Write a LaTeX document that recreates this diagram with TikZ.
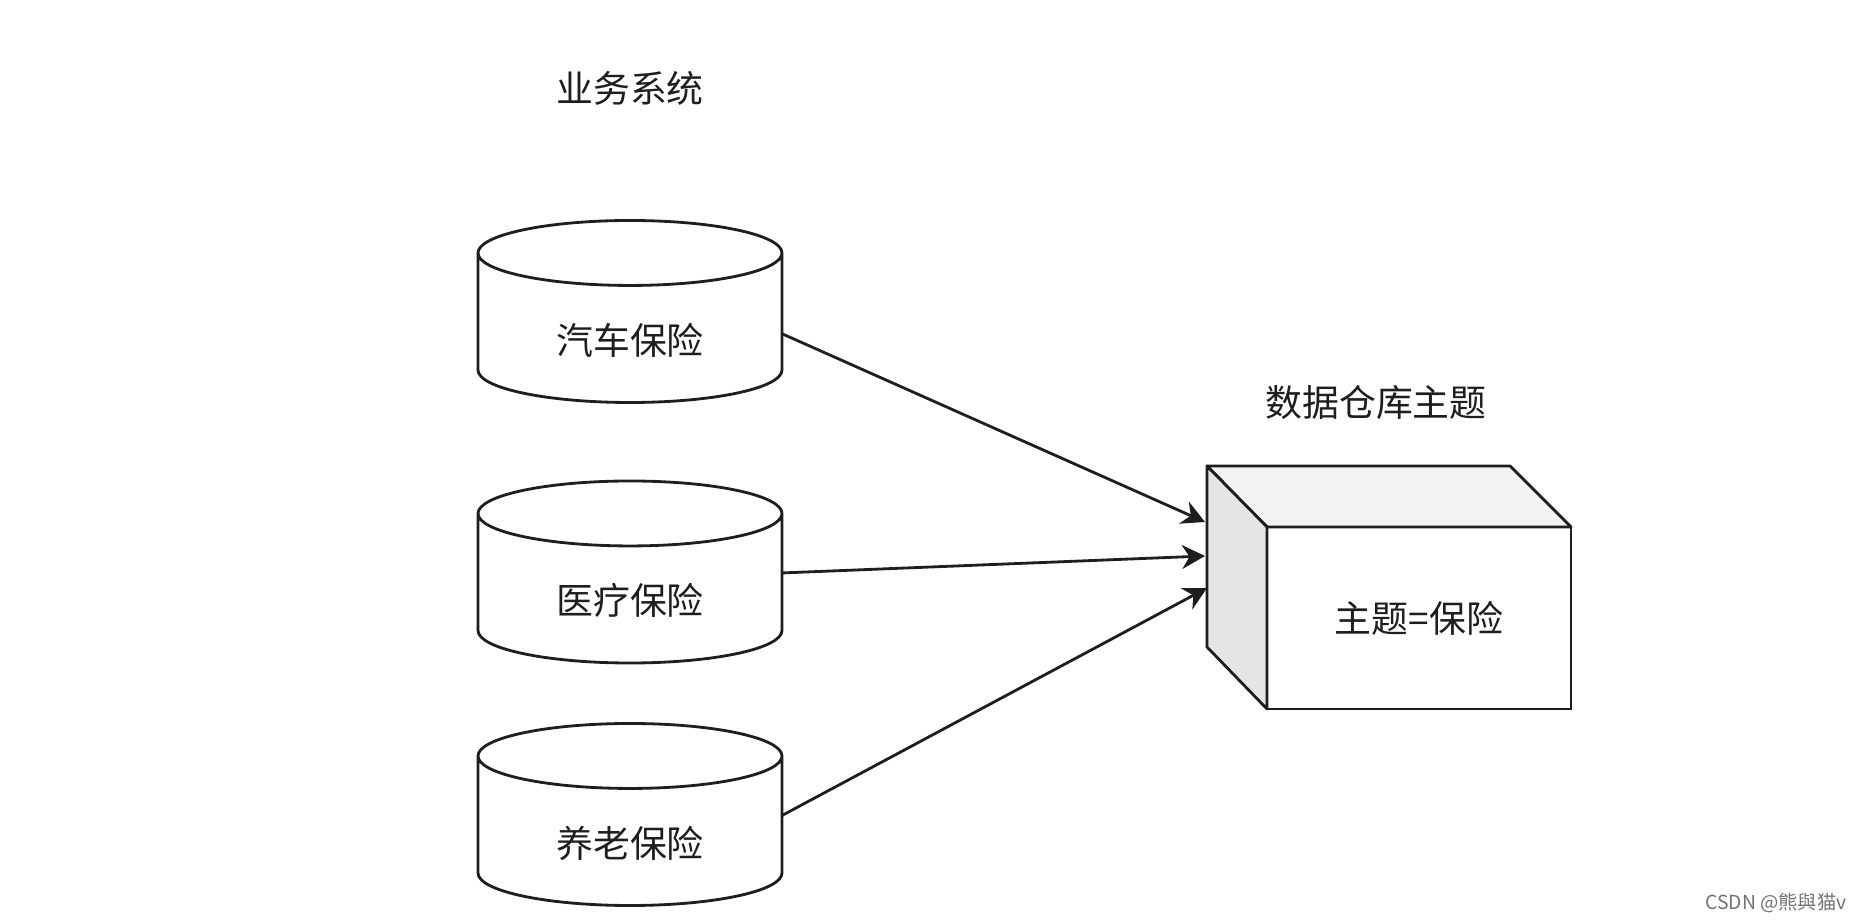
\documentclass[tikz,border=0pt]{standalone}
\usepackage{fontspec}
\setmainfont{Noto Sans CJK SC}
\usetikzlibrary{shapes.geometric,arrows.meta}
\definecolor{inkline}{HTML}{1E1E1E}
\tikzset{
  dbcyl/.style={cylinder,shape border rotate=90,shape aspect=.44,anchor=shape center,draw=inkline,line width=.8pt,
    minimum width=3.04cm,minimum height=1.82cm,inner sep=0pt,outer sep=0pt,text height=.52cm,text depth=0pt,
    font=\fontsize{10.5pt}{12pt}\selectfont,text=inkline},
  caption/.style={font=\fontsize{10.5pt}{12pt}\selectfont,text=inkline},
  feed/.style={draw=inkline,line width=.8pt,-{Stealth[length=.23cm,width=.24cm]}},
  face/.style={draw=inkline,line width=.8pt,line join=round}
}
\begin{document}
\begin{tikzpicture}
\useasboundingbox (0,0) rectangle (18.62,-9.22);

\node[caption] (sys) at (6.30,-.88) {业务系统};
\node[dbcyl] (car) at (6.30,-3.115) {汽车保险};
\node[dbcyl] (med) at (6.30,-5.72) {医疗保险};
\node[dbcyl] (old) at (6.30,-8.145) {养老保险};

\draw[face,fill=black!5] (12.07,-4.66) -- (15.10,-4.66) -- (15.71,-5.27) -- (12.67,-5.27) -- cycle;
\draw[face,fill=black!10] (12.07,-4.66) -- (12.67,-5.27) -- (12.67,-7.09) -- (12.07,-6.47) -- cycle;
\node[draw=inkline,line width=.8pt,minimum width=3.04cm,minimum height=1.82cm,inner sep=0pt,outer sep=0pt,caption] (front) at (14.19,-6.18) {主题=保险};
\node[caption] (dw) at (13.76,-4.03) {数据仓库主题};

\coordinate (inA) at (12.05,-5.22);
\coordinate (inB) at (12.05,-5.56);
\coordinate (inC) at (12.07,-5.88);
\draw[feed] (car.-2) -- (inA);
\draw[feed] (med.6) -- (inB);
\draw[feed] (old.6) -- (inC);

\node[text=black!55,font=\fontsize{5.5pt}{6pt}\selectfont] (mark) at (17.76,-9.03) {CSDN @熊與猫v};
\end{tikzpicture}
\end{document}
